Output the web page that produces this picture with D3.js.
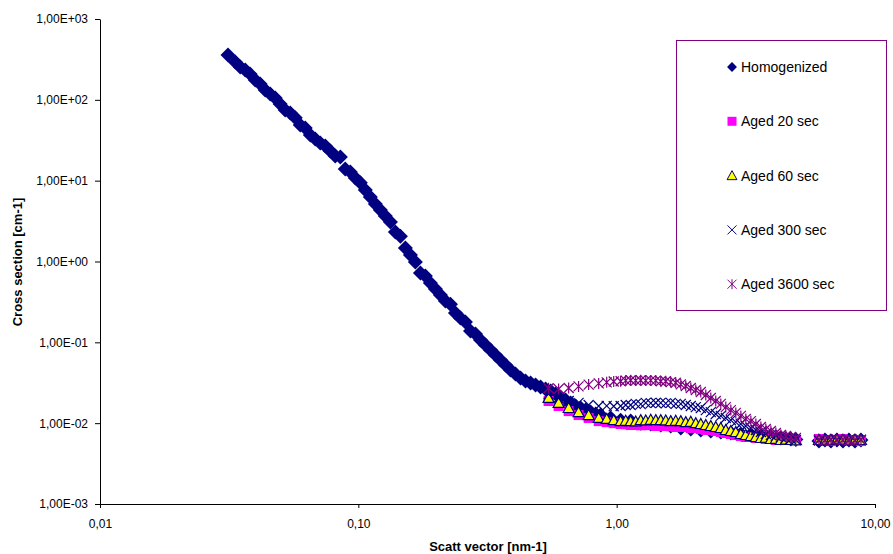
<!DOCTYPE html>
<html>
<head>
<meta charset="utf-8">
<script src="https://cdn.jsdelivr.net/npm/d3@7"></script>
<style>
body { margin: 0; background: #fff; }
svg { display: block; font-family: "Liberation Sans", Arial, sans-serif; }
</style>
</head>
<body>
<svg id="chart" width="893" height="554"></svg>
<script>
// scattering vector [nm-1] and cross section [cm-1]
const homQ = [0.0313, 0.0334, 0.0349, 0.0365, 0.0381, 0.0399, 0.0417, 0.0436, 0.0456, 0.0477,
  0.0498, 0.0521, 0.0545, 0.0570, 0.0596, 0.0623, 0.0652, 0.0681, 0.0712, 0.0745,
  0.0779, 0.0814, 0.0852, 0.0890, 0.0931, 0.0974, 0.1018, 0.1064, 0.1113, 0.1164,
  0.1217, 0.1272, 0.1331, 0.1391, 0.1455, 0.1521, 0.1591, 0.1663, 0.1739, 0.1818,
  0.1901, 0.1988, 0.2079, 0.2174, 0.2273, 0.2376, 0.2485, 0.2598, 0.2717, 0.2841,
  0.2971, 0.3106, 0.3248, 0.3396, 0.3551, 0.3713, 0.3882, 0.4059, 0.4245, 0.4438,
  0.4642, 0.4853, 0.5075, 0.5306, 0.5549, 0.5802, 0.6066, 0.6343, 0.6633, 0.6935,
  0.7252, 0.7583, 0.7928, 0.8290, 0.8670, 0.9478, 1.036, 1.133, 1.239, 1.355,
  1.481, 1.619, 1.771, 1.936, 2.117, 2.314, 2.530, 2.767, 3.025, 3.307,
  3.616, 3.953, 4.322, 4.725, 4.941, 6.066, 6.401, 6.751, 7.124,
  7.516, 7.928, 8.365, 8.823];
const homI = [358.6, 293.8, 254.8, 233.9, 208.7, 175.9, 157.0, 132.3, 118.1, 105.3,
  88.8, 74.8, 68.7, 60.1, 48.8, 44.8, 36.7, 32.8, 29.2, 26.8,
  23.3, 20.2, 19.6, 13.9, 12.8, 10.8, 9.4, 7.66, 6.28, 5.14,
  4.34, 3.65, 3.08, 2.32, 2.05, 1.47, 1.20, 0.986, 0.72, 0.661,
  0.542, 0.457, 0.385, 0.325, 0.295, 0.2305, 0.200, 0.1784, 0.138, 0.1267,
  0.1068, 0.0927, 0.0804, 0.0697, 0.0604, 0.0524, 0.0455, 0.0406, 0.0362, 0.0332,
  0.0314, 0.0296, 0.0280, 0.0265, 0.0250, 0.0229, 0.0211, 0.0193, 0.0178, 0.0163,
  0.0154, 0.0145, 0.0137, 0.0130, 0.0126, 0.0116, 0.0109, 0.0106, 0.0100, 0.00976,
  0.00949, 0.00922, 0.00871, 0.00847, 0.00823, 0.00800, 0.00777, 0.00755, 0.00734, 0.00714,
  0.00693, 0.00674, 0.00655, 0.00637, 0.00628, 0.00601, 0.00619, 0.00601, 0.00619,
  0.00601, 0.00619, 0.00601, 0.00619];

const agedQ = [0.545, 0.596, 0.652, 0.712, 0.779, 0.852, 0.915, 0.974, 1.036, 1.084,
  1.133, 1.185, 1.239, 1.296, 1.355, 1.417, 1.481, 1.549, 1.619, 1.693,
  1.771, 1.851, 1.936, 2.024, 2.117, 2.213, 2.314, 2.419, 2.530, 2.645,
  2.767, 2.892, 3.025, 3.162, 3.307, 3.458, 3.616, 3.780, 3.953, 4.133,
  4.322, 4.519, 4.725, 4.941, 6.066, 6.401, 6.751, 7.124,
  7.516, 7.928, 8.365, 8.823];
const aged20I = [0.0188, 0.0163, 0.0141, 0.0126, 0.0116, 0.0106, 0.0103, 0.0100, 0.00976, 0.00968,
  0.00949, 0.00955, 0.00941, 0.00949, 0.00945, 0.00922, 0.00930, 0.00922, 0.00915, 0.00896,
  0.00896, 0.00900, 0.00871, 0.00878, 0.00847, 0.00823, 0.00823, 0.00800, 0.00777, 0.00755,
  0.00734, 0.00714, 0.00693, 0.00674, 0.00674, 0.00655, 0.00655, 0.00637, 0.00637, 0.00619,
  0.00619, 0.00625, 0.00619, 0.00612, 0.00637, 0.00619, 0.00601, 0.00619,
  0.00637, 0.00619, 0.00619, 0.00601];
const aged60I = [0.0205, 0.0178, 0.0154, 0.0137, 0.0126, 0.0116, 0.0113, 0.0109, 0.0106, 0.0107,
  0.0106, 0.0105, 0.0109, 0.0108, 0.0110, 0.0109, 0.0109, 0.0108, 0.0106, 0.0107,
  0.0106, 0.0103, 0.0104, 0.0100, 0.00976, 0.00949, 0.00922, 0.00896, 0.00871, 0.00823,
  0.00800, 0.00777, 0.00734, 0.00714, 0.00693, 0.00674, 0.00655, 0.00660, 0.00637, 0.00640,
  0.00619, 0.00625, 0.00619, 0.00615, 0.00619, 0.00610, 0.00619, 0.00630,
  0.00619, 0.00612, 0.00625, 0.00619];
const aged300I = [0.0229, 0.0205, 0.0188, 0.0178, 0.0168, 0.0163, 0.0164, 0.0162, 0.0163, 0.0168,
  0.0168, 0.0173, 0.0172, 0.0178, 0.0177, 0.0179, 0.0178, 0.0176, 0.0178, 0.0173,
  0.0173, 0.0168, 0.0163, 0.0158, 0.0154, 0.0145, 0.0137, 0.0130, 0.0123, 0.0116,
  0.0109, 0.0103, 0.00976, 0.00922, 0.00871, 0.00823, 0.00777, 0.00734, 0.00714, 0.00693,
  0.00674, 0.00655, 0.00637, 0.00619, 0.00610, 0.00619, 0.00630, 0.00615,
  0.00619, 0.00625, 0.00610, 0.00619];
const aged3600I = [0.0270, 0.0265, 0.0272, 0.0285, 0.0300, 0.0310, 0.0320, 0.0328, 0.0330, 0.0336,
  0.0340, 0.0336, 0.0340, 0.0336, 0.0338, 0.0336, 0.0330, 0.0330, 0.0322, 0.0316,
  0.0302, 0.0288, 0.0272, 0.0257, 0.0243, 0.0223, 0.0205, 0.0188, 0.0173, 0.0158,
  0.0145, 0.0134, 0.0123, 0.0113, 0.0106, 0.00976, 0.00896, 0.00847, 0.00800, 0.00755,
  0.00714, 0.00693, 0.00674, 0.00655, 0.00625, 0.00612, 0.00619, 0.00630,
  0.00619, 0.00610, 0.00619, 0.00625];

const seriesNames = ["Homogenized", "Aged 20 sec", "Aged 60 sec", "Aged 300 sec", "Aged 3600 sec"];
const xTicks = [0.01, 0.1, 1, 10];
const xTickLabels = ["0,01", "0,10", "1,00", "10,00"];
const yTicks = [0.001, 0.01, 0.1, 1, 10, 100, 1000];
const yTickLabels = ["1,00E-03", "1,00E-02", "1,00E-01", "1,00E+00", "1,00E+01", "1,00E+02", "1,00E+03"];

const svg = d3.select("#chart");

const x = d3.scaleLog().domain([0.01, 10]).range([100, 875]);
const y = d3.scaleLog().domain([0.001, 1000]).range([504, 19]);

// marker shapes, excel style
function markerPath(kind, r) {
  if (kind == "diamond") return "M0," + (-r) + "L" + r + ",0L0," + r + "L" + (-r) + ",0Z";
  if (kind == "square") return "M-5,-5H5V5H-5Z";
  if (kind == "triangle") return "M0,-5.5L5.5,4.5L-5.5,4.5Z";
  if (kind == "x") return "M-5,-5L5,5M-5,5L5,-5";
  return "M-5,-5L5,5M-5,5L5,-5M0,-5.5L0,5.5";
}

const series = [
  {name: seriesNames[0], q: homQ, v: homI, kind: "diamond", fill: "#000080", stroke: "none"},
  {name: seriesNames[1], q: agedQ, v: aged20I, kind: "square", fill: "#ff00ff", stroke: "none"},
  {name: seriesNames[2], q: agedQ, v: aged60I, kind: "triangle", fill: "#ffff00", stroke: "#000080"},
  {name: seriesNames[3], q: agedQ, v: aged300I, kind: "x", fill: "none", stroke: "#000080"},
  {name: seriesNames[4], q: agedQ, v: aged3600I, kind: "star", fill: "none", stroke: "#800080"}
];

// axes
svg.append("g")
  .attr("transform", "translate(100,0)")
  .call(d3.axisLeft(y).tickValues(yTicks).tickFormat((d, i) => yTickLabels[i])
    .tickSize(5).tickSizeOuter(0).tickPadding(7));

svg.append("g")
  .attr("transform", "translate(0,504)")
  .call(d3.axisBottom(x).tickValues(xTicks).tickFormat((d, i) => xTickLabels[i])
    .tickSize(4).tickSizeOuter(0).tickPadding(11));

svg.selectAll(".tick text")
  .attr("font-size", 12)
  .attr("font-family", "Liberation Sans, Arial, sans-serif")
  .attr("fill", "#000");
svg.selectAll(".domain, .tick line").attr("stroke", "#000");

svg.append("text")
  .attr("x", 488)
  .attr("y", 551)
  .attr("text-anchor", "middle")
  .attr("font-size", 13)
  .attr("font-weight", "bold")
  .text("Scatt vector [nm-1]");

svg.append("text")
  .attr("transform", "translate(22,262) rotate(-90)")
  .attr("text-anchor", "middle")
  .attr("font-size", 13)
  .attr("font-weight", "bold")
  .text("Cross section [cm-1]");

// points
series.forEach(function(s) {
  let pts = s.q.map((q, i) => ({q: q, v: s.v[i]}));
  svg.append("g")
    .selectAll("path")
    .data(pts)
    .join("path")
    .attr("transform", d => "translate(" + x(d.q) + "," + y(d.v) + ")")
    .attr("d", markerPath(s.kind, 7.5))
    .attr("fill", s.fill)
    .attr("stroke", s.stroke)
    .attr("stroke-width", 1.2);
});

// legend
const legend = svg.append("g");
legend.append("rect")
  .attr("x", 676.5)
  .attr("y", 40.5)
  .attr("width", 210)
  .attr("height", 270)
  .attr("fill", "#fff")
  .attr("stroke", "#800080");

series.forEach(function(s, i) {
  let ly = 67 + i * 54.3;
  legend.append("path")
    .attr("transform", "translate(732," + ly + ") scale(0.9)")
    .attr("d", markerPath(s.kind, 5.5))
    .attr("fill", s.fill)
    .attr("stroke", s.stroke)
    .attr("stroke-width", 1.1);
  legend.append("text")
    .attr("x", 741)
    .attr("y", ly + 5)
    .attr("font-size", 14)
    .text(s.name);
});
</script>
</body>
</html>
